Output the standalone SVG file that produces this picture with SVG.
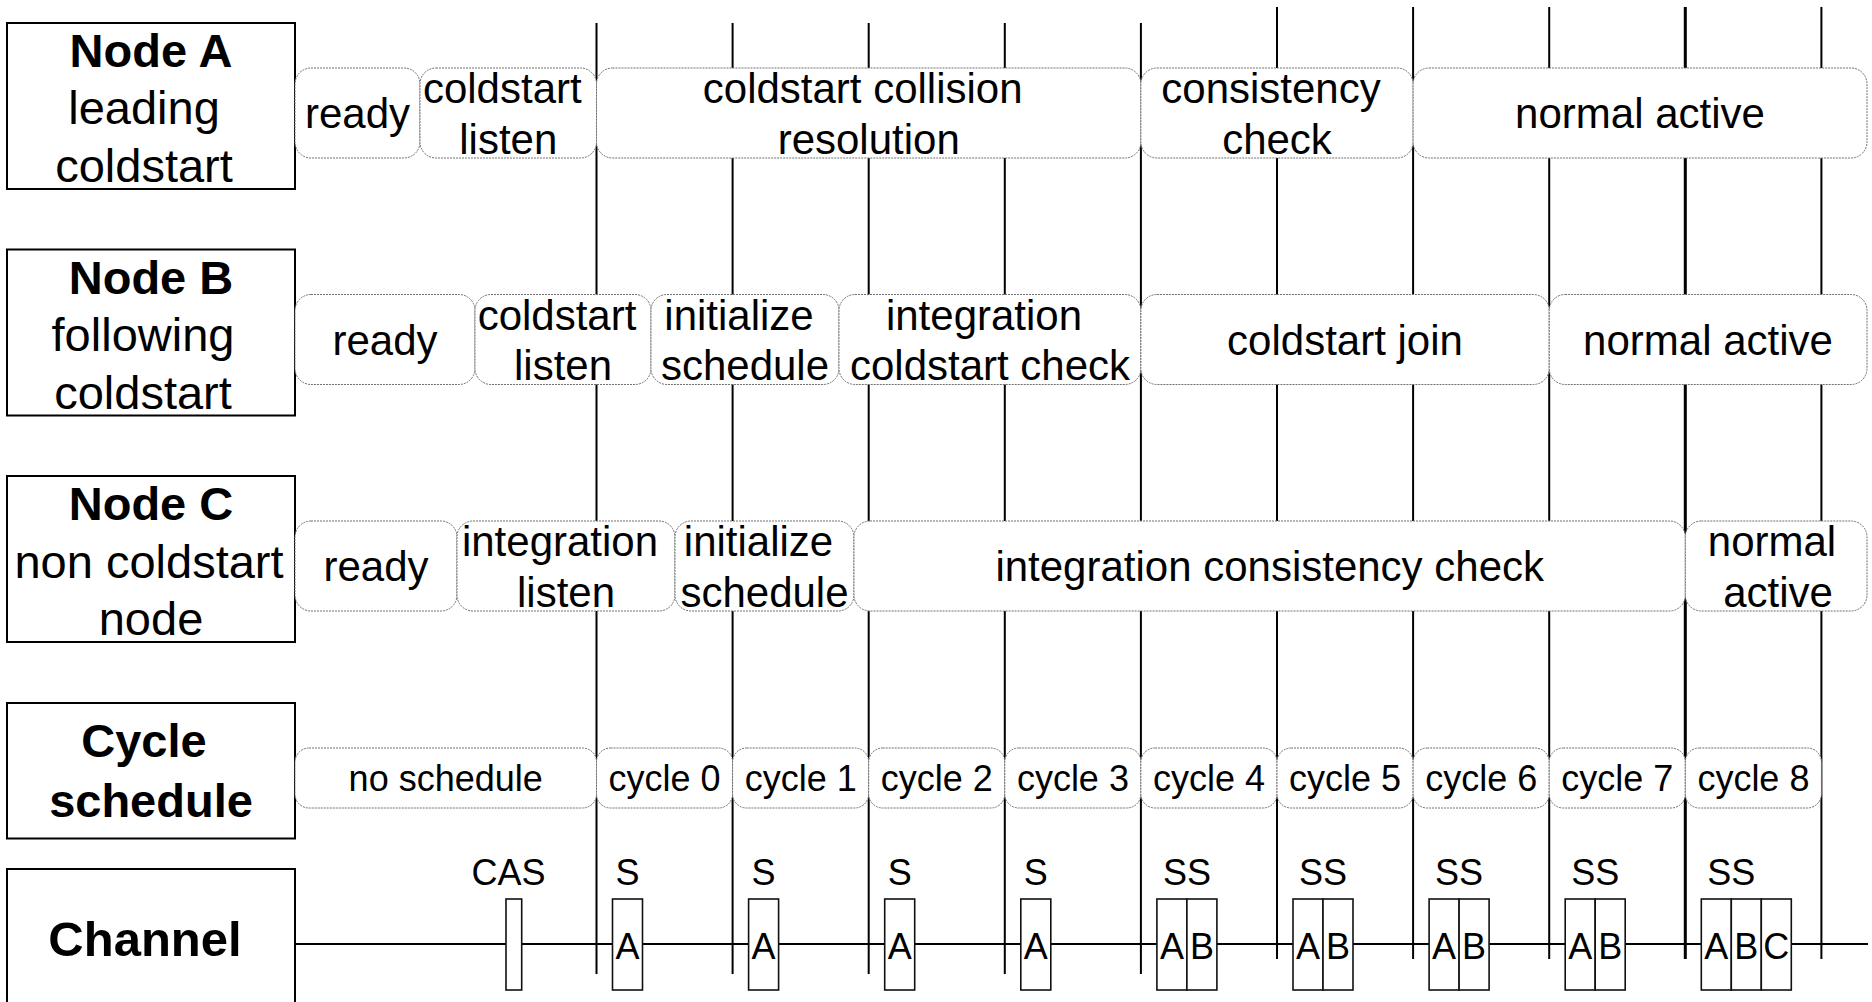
<svg xmlns="http://www.w3.org/2000/svg" width="1872" height="1002" viewBox="0 0 1872 1002">
  <style>
    .hdr{fill:#fff;stroke:#000;stroke-width:2}
    .st{fill:#fff;stroke:#707070;stroke-width:1;stroke-dasharray:2 1}
    .t{font-family:"Liberation Sans",Arial,sans-serif;fill:#000;text-anchor:middle}
    .h{font-size:47px;font-weight:bold}
    .hn{font-size:47px}
    .s{font-size:42px}
    .c{font-size:36px}
    .tl{stroke:#000;stroke-width:2;fill:none}
    .tl-bold{stroke:#000;stroke-width:3;fill:none}
    .fr{fill:#fff;stroke:#111;stroke-width:1.6}
  </style>

  <rect width="1872" height="1002" fill="#fff"/>

  <!-- cycle boundaries and the channel bus -->
  <g id="connectors">
    <line class="tl" x1="596.5" y1="23" x2="596.5" y2="974"/>
    <line class="tl" x1="732.6" y1="23" x2="732.6" y2="974"/>
    <line class="tl" x1="868.7" y1="23" x2="868.7" y2="974"/>
    <line class="tl" x1="1004.8" y1="23" x2="1004.8" y2="974"/>
    <line class="tl" x1="1140.9" y1="23" x2="1140.9" y2="974"/>
    <line class="tl" x1="1277" y1="7" x2="1277" y2="959"/>
    <line class="tl" x1="1413.1" y1="7" x2="1413.1" y2="959"/>
    <line class="tl" x1="1549.2" y1="7" x2="1549.2" y2="959"/>
    <line class="tl-bold" x1="1685.3" y1="7" x2="1685.3" y2="959"/>
    <line class="tl" x1="1821.4" y1="7" x2="1821.4" y2="959"/>
    <line class="tl" x1="295" y1="944" x2="1868" y2="944"/>
  </g>

  <!-- Node A -->
  <g id="node-a">
    <rect class="hdr" x="7" y="23" width="288" height="166"/>
    <text class="t h" x="151" y="66.7">Node A</text>
    <text class="t hn" x="144" y="124">leading</text>
    <text class="t hn" x="144" y="181.5">coldstart</text>

    <rect class="st" x="295" y="68" width="125" height="90" rx="16"/>
    <rect class="st" x="420" y="68" width="176.5" height="90" rx="16"/>
    <rect class="st" x="596.5" y="68" width="544.4" height="90" rx="16"/>
    <rect class="st" x="1140.9" y="68" width="272.2" height="90" rx="16"/>
    <rect class="st" x="1413.1" y="68" width="453.9" height="90" rx="16"/>
    <text class="t s" x="357.5" y="128">ready</text>
    <text class="t s" x="502.3" y="103">coldstart</text>
    <text class="t s" x="508.3" y="153.5">listen</text>
    <text class="t s" x="862.7" y="103">coldstart collision</text>
    <text class="t s" x="868.7" y="153.5">resolution</text>
    <text class="t s" x="1271" y="103">consistency</text>
    <text class="t s" x="1277" y="153.5">check</text>
    <text class="t s" x="1640" y="128">normal active</text>
  </g>

  <!-- Node B -->
  <g id="node-b">
    <rect class="hdr" x="7" y="249.5" width="288" height="166"/>
    <text class="t h" x="151" y="293.5">Node B</text>
    <text class="t hn" x="143" y="351">following</text>
    <text class="t hn" x="143" y="408.5">coldstart</text>

    <rect class="st" x="295" y="294.5" width="180" height="90" rx="16"/>
    <rect class="st" x="475" y="294.5" width="176" height="90" rx="16"/>
    <rect class="st" x="651" y="294.5" width="188" height="90" rx="16"/>
    <rect class="st" x="839" y="294.5" width="301.9" height="90" rx="16"/>
    <rect class="st" x="1140.9" y="294.5" width="408.3" height="90" rx="16"/>
    <rect class="st" x="1549.2" y="294.5" width="317.8" height="90" rx="16"/>
    <text class="t s" x="385" y="354.5">ready</text>
    <text class="t s" x="557" y="329.5">coldstart</text>
    <text class="t s" x="563" y="380">listen</text>
    <text class="t s" x="739" y="329.5">initialize</text>
    <text class="t s" x="745" y="380">schedule</text>
    <text class="t s" x="984" y="329.5">integration</text>
    <text class="t s" x="990" y="380">coldstart check</text>
    <text class="t s" x="1345" y="354.5">coldstart join</text>
    <text class="t s" x="1708" y="354.5">normal active</text>
  </g>

  <!-- Node C -->
  <g id="node-c">
    <rect class="hdr" x="7" y="476" width="288" height="166"/>
    <text class="t h" x="151" y="520">Node C</text>
    <text class="t hn" x="149" y="577.5">non coldstart</text>
    <text class="t hn" x="151" y="635">node</text>

    <rect class="st" x="295" y="521" width="162" height="90" rx="16"/>
    <rect class="st" x="457" y="521" width="218" height="90" rx="16"/>
    <rect class="st" x="675" y="521" width="179" height="90" rx="16"/>
    <rect class="st" x="854" y="521" width="831.3" height="90" rx="16"/>
    <rect class="st" x="1685.3" y="521" width="181.7" height="90" rx="16"/>
    <text class="t s" x="376" y="581">ready</text>
    <text class="t s" x="560" y="556">integration</text>
    <text class="t s" x="566" y="606.5">listen</text>
    <text class="t s" x="758.5" y="556">initialize</text>
    <text class="t s" x="764.5" y="606.5">schedule</text>
    <text class="t s" x="1269.7" y="581">integration consistency check</text>
    <text class="t s" x="1772" y="556">normal</text>
    <text class="t s" x="1778" y="606.5">active</text>
  </g>

  <!-- Cycle schedule -->
  <g id="cycle-schedule">
    <rect class="hdr" x="7" y="703" width="288" height="135.5"/>
    <text class="t h" x="144" y="757">Cycle</text>
    <text class="t h" x="151" y="817">schedule</text>

    <rect class="st" x="295" y="748" width="301.5" height="60" rx="14"/>
    <rect class="st" x="596.5" y="748" width="136.1" height="60" rx="14"/>
    <rect class="st" x="732.6" y="748" width="136.1" height="60" rx="14"/>
    <rect class="st" x="868.7" y="748" width="136.1" height="60" rx="14"/>
    <rect class="st" x="1004.8" y="748" width="136.1" height="60" rx="14"/>
    <rect class="st" x="1140.9" y="748" width="136.1" height="60" rx="14"/>
    <rect class="st" x="1277" y="748" width="136.1" height="60" rx="14"/>
    <rect class="st" x="1413.1" y="748" width="136.1" height="60" rx="14"/>
    <rect class="st" x="1549.2" y="748" width="136.1" height="60" rx="14"/>
    <rect class="st" x="1685.3" y="748" width="136.1" height="60" rx="14"/>
    <text class="t c" x="445.7" y="791">no schedule</text>
    <text class="t c" x="664.6" y="791">cycle 0</text>
    <text class="t c" x="800.7" y="791">cycle 1</text>
    <text class="t c" x="936.8" y="791">cycle 2</text>
    <text class="t c" x="1072.9" y="791">cycle 3</text>
    <text class="t c" x="1209" y="791">cycle 4</text>
    <text class="t c" x="1345.1" y="791">cycle 5</text>
    <text class="t c" x="1481.2" y="791">cycle 6</text>
    <text class="t c" x="1617.3" y="791">cycle 7</text>
    <text class="t c" x="1753.4" y="791">cycle 8</text>
  </g>

  <!-- Channel -->
  <g id="channel">
    <rect class="hdr" x="7" y="869" width="288" height="150"/>
    <text class="t h" x="145" y="956" style="font-size:49px">Channel</text>

    <!-- collision avoidance symbol -->
    <text class="t c" x="508.5" y="885">CAS</text>
    <rect class="fr" x="506" y="899" width="15.7" height="91"/>

    <!-- startup frames per cycle -->
    <text class="t c" x="627.5" y="885">S</text>
    <rect class="fr" x="612.5" y="899" width="30" height="91"/>
    <text class="t c" x="627.5" y="959">A</text>

    <text class="t c" x="763.6" y="885">S</text>
    <rect class="fr" x="748.6" y="899" width="30" height="91"/>
    <text class="t c" x="763.6" y="959">A</text>

    <text class="t c" x="899.7" y="885">S</text>
    <rect class="fr" x="884.7" y="899" width="30" height="91"/>
    <text class="t c" x="899.7" y="959">A</text>

    <text class="t c" x="1035.8" y="885">S</text>
    <rect class="fr" x="1020.8" y="899" width="30" height="91"/>
    <text class="t c" x="1035.8" y="959">A</text>

    <text class="t c" x="1186.9" y="885">SS</text>
    <rect class="fr" x="1156.9" y="899" width="30" height="91"/>
    <rect class="fr" x="1186.9" y="899" width="30" height="91"/>
    <text class="t c" x="1171.9" y="959">A</text>
    <text class="t c" x="1201.9" y="959">B</text>

    <text class="t c" x="1323" y="885">SS</text>
    <rect class="fr" x="1293" y="899" width="30" height="91"/>
    <rect class="fr" x="1323" y="899" width="30" height="91"/>
    <text class="t c" x="1308" y="959">A</text>
    <text class="t c" x="1338" y="959">B</text>

    <text class="t c" x="1459.1" y="885">SS</text>
    <rect class="fr" x="1429.1" y="899" width="30" height="91"/>
    <rect class="fr" x="1459.1" y="899" width="30" height="91"/>
    <text class="t c" x="1444.1" y="959">A</text>
    <text class="t c" x="1474.1" y="959">B</text>

    <text class="t c" x="1595.2" y="885">SS</text>
    <rect class="fr" x="1565.2" y="899" width="30" height="91"/>
    <rect class="fr" x="1595.2" y="899" width="30" height="91"/>
    <text class="t c" x="1580.2" y="959">A</text>
    <text class="t c" x="1610.2" y="959">B</text>

    <text class="t c" x="1731.3" y="885">SS</text>
    <rect class="fr" x="1701.3" y="899" width="30" height="91"/>
    <rect class="fr" x="1731.3" y="899" width="30" height="91"/>
    <rect class="fr" x="1761.3" y="899" width="30" height="91"/>
    <text class="t c" x="1716.3" y="959">A</text>
    <text class="t c" x="1746.3" y="959">B</text>
    <text class="t c" x="1776.3" y="959">C</text>
  </g>
</svg>
